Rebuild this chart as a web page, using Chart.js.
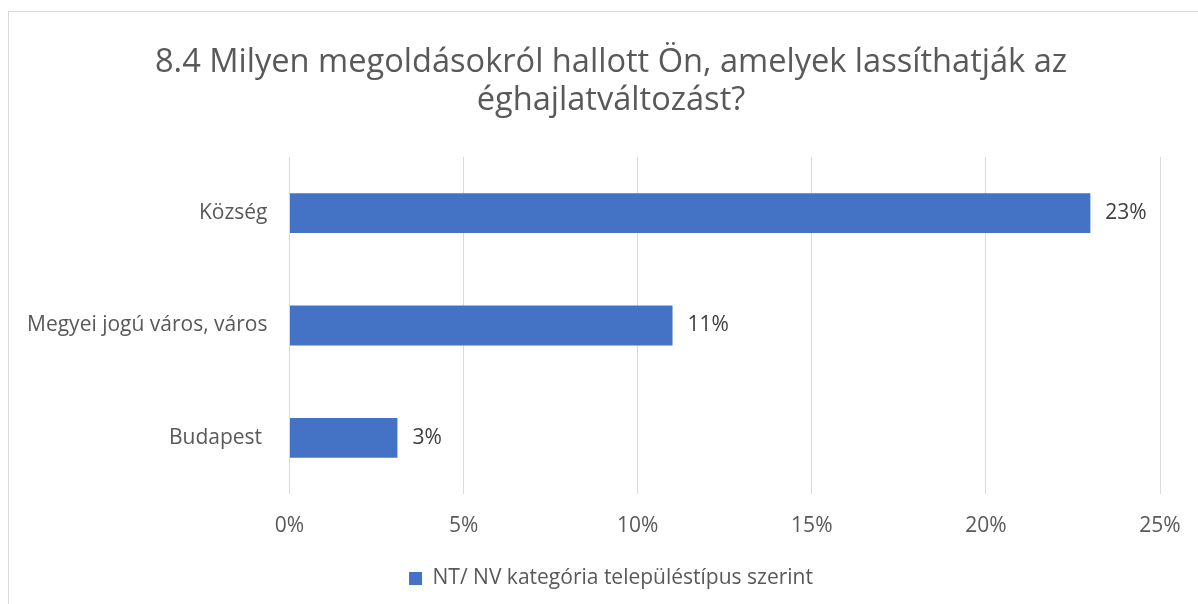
<!DOCTYPE html>
<html>
<head>
<meta charset="utf-8">
<script src="https://cdn.jsdelivr.net/npm/chart.js@4.4.1/dist/chart.umd.min.js"></script>
<style>
  html, body { margin: 0; padding: 0; background: #ffffff; overflow: hidden; width: 1198px; height: 604px; }
  #frame { position: absolute; left: 8px; top: 11px; width: 1206px; height: 620px; border-left: 1px solid #d9d9d9; border-top: 1px solid #d9d9d9; background: #fff; }
  #c { position: absolute; left: 0; top: 0; }
</style>
</head>
<body>
<div id="frame"><canvas id="c" width="1204" height="592"></canvas></div>
<script>
const titleLines = ['8.4 Milyen megoldásokról hallott Ön, amelyek lassíthatják az', 'éghajlatváltozást?'];
const categories = ['Község', 'Megyei jogú város, város', 'Budapest '];
const seriesName = 'NT/ NV kategória településtípus szerint';
const seriesValues = [23, 11, 3.1];
const xTickMin = 0;
const xTickMax = 25;
const xTickStep = 5;

const FONT = '"Open Sans", "Noto Sans", sans-serif';

const barLabels = {
  id: 'barLabels',
  afterDatasetsDraw(chart) {
    const ctx = chart.ctx;
    chart.data.datasets.forEach((ds, i) => {
      const meta = chart.getDatasetMeta(i);
      meta.data.forEach((bar, j) => {
        ctx.save();
        ctx.font = '21px ' + FONT;
        ctx.fillStyle = '#404040';
        ctx.textAlign = 'left';
        ctx.textBaseline = 'middle';
        ctx.fillText(Math.round(ds.data[j]) + '%', bar.x + 15, bar.y);
        ctx.restore();
      });
    });
  }
};

function build() {
  new Chart(document.getElementById('c'), {
    type: 'bar',
    data: {
      labels: categories,
      datasets: [{
        label: seriesName,
        data: seriesValues,
        backgroundColor: '#4472c4',
        borderWidth: 0,
        categoryPercentage: 1,
        barPercentage: 0.355,
        xAxisID: 'x',
        yAxisID: 'y'
      }]
    },
    options: {
      indexAxis: 'y',
      responsive: false,
      animation: false,
      devicePixelRatio: 1,
      layout: { padding: { left: 0, right: 0, top: 0, bottom: 5 } },
      plugins: {
        title: {
          display: true,
          text: titleLines,
          color: '#595959',
          font: { family: FONT, size: 32.6, weight: 'normal', lineHeight: 1.18 },
          padding: { top: 31, bottom: 37 }
        },
        legend: {
          display: true,
          position: 'bottom',
          labels: {
            color: '#595959',
            font: { family: FONT, size: 21 },
            boxWidth: 13,
            boxHeight: 13,
            padding: 10
          }
        },
        tooltip: { enabled: false }
      },
      scales: {
        x: {
          min: xTickMin,
          max: xTickMax,
          ticks: {
            stepSize: xTickStep,
            color: '#595959',
            font: { family: FONT, size: 21 },
            padding: 19,
            callback: (v) => v + '%'
          },
          grid: { color: '#d9d9d9', lineWidth: 1, drawTicks: false },
          border: { display: false },
          afterFit: (s) => { s.height = 64; }
        },
        y: {
          ticks: {
            color: '#595959',
            font: { family: FONT, size: 21 },
            padding: 22
          },
          grid: { display: false, drawTicks: false },
          border: { display: false },
          afterFit: (s) => { s.width = 280.5; }
        },
        yRight: {
          type: 'category',
          position: 'right',
          display: true,
          ticks: { display: false },
          grid: { display: false, drawTicks: false },
          border: { display: false },
          afterFit: (s) => { s.width = 53; }
        }
      }
    },
    plugins: [barLabels]
  });
}

Promise.all([
  document.fonts.load('21px "Open Sans"'),
  document.fonts.load('33px "Open Sans"')
]).then(build, build);
</script>
</body>
</html>
